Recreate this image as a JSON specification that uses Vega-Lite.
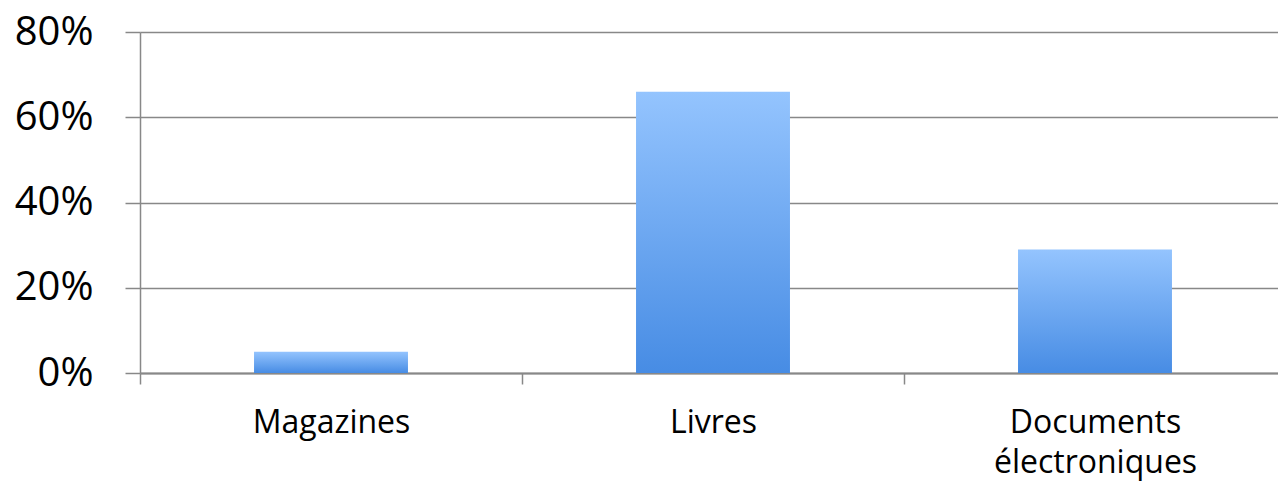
{
  "$schema": "https://vega.github.io/schema/vega-lite/v6.json",
  "autosize": {"type": "none"},
  "width": 1138,
  "height": 341,
  "padding": {"left": 140, "top": 32, "right": 0, "bottom": 109},
  "background": "white",
  "config": {"view": {"stroke": null}},
  "data": {"values": [
    {"category": "Magazines", "value": 0.05},
    {"category": "Livres", "value": 0.66},
    {"category": "Documents électroniques", "value": 0.29}
  ]},
  "mark": {
    "type": "bar",
    "width": {"band": 0.403},
    "color": {
      "gradient": "linear", "x1": 0, "y1": 0, "x2": 0, "y2": 1,
      "stops": [{"offset": 0, "color": "#94c4fe"}, {"offset": 1, "color": "#478ce4"}]
    }
  },
  "encoding": {
    "x": {
      "field": "category", "type": "nominal", "sort": null,
      "scale": {"paddingInner": 0, "paddingOuter": 0, "range": [0, 1146]},
      "axis": {
        "title": null, "labelAngle": 0, "labelFont": "Open Sans", "labelFontSize": 32,
        "labelColor": "#000000", "labelPadding": 23, "tickSize": 11, "tickBand": "extent",
        "tickColor": "#888888", "tickWidth": 1.5, "domainColor": "#888888", "domainWidth": 2,
        "labelLineHeight": 40, "labelLimit": 400,
        "labelExpr": "datum.label == 'Documents électroniques' ? ['Documents', 'électroniques'] : datum.label"
      }
    },
    "y": {
      "field": "value", "type": "quantitative",
      "scale": {"domain": [0, 0.8], "nice": false},
      "axis": {
        "title": null, "format": ".0%", "values": [0, 0.2, 0.4, 0.6, 0.8],
        "labelFont": "Open Sans", "labelFontSize": 40, "labelColor": "#000000",
        "labelPadding": 32, "tickSize": 15, "tickColor": "#888888", "tickWidth": 1.5,
        "domainColor": "#888888", "domainWidth": 1.5,
        "grid": true, "gridColor": "#888888", "gridWidth": 1.5, "gridOpacity": 1
      }
    }
  }
}
